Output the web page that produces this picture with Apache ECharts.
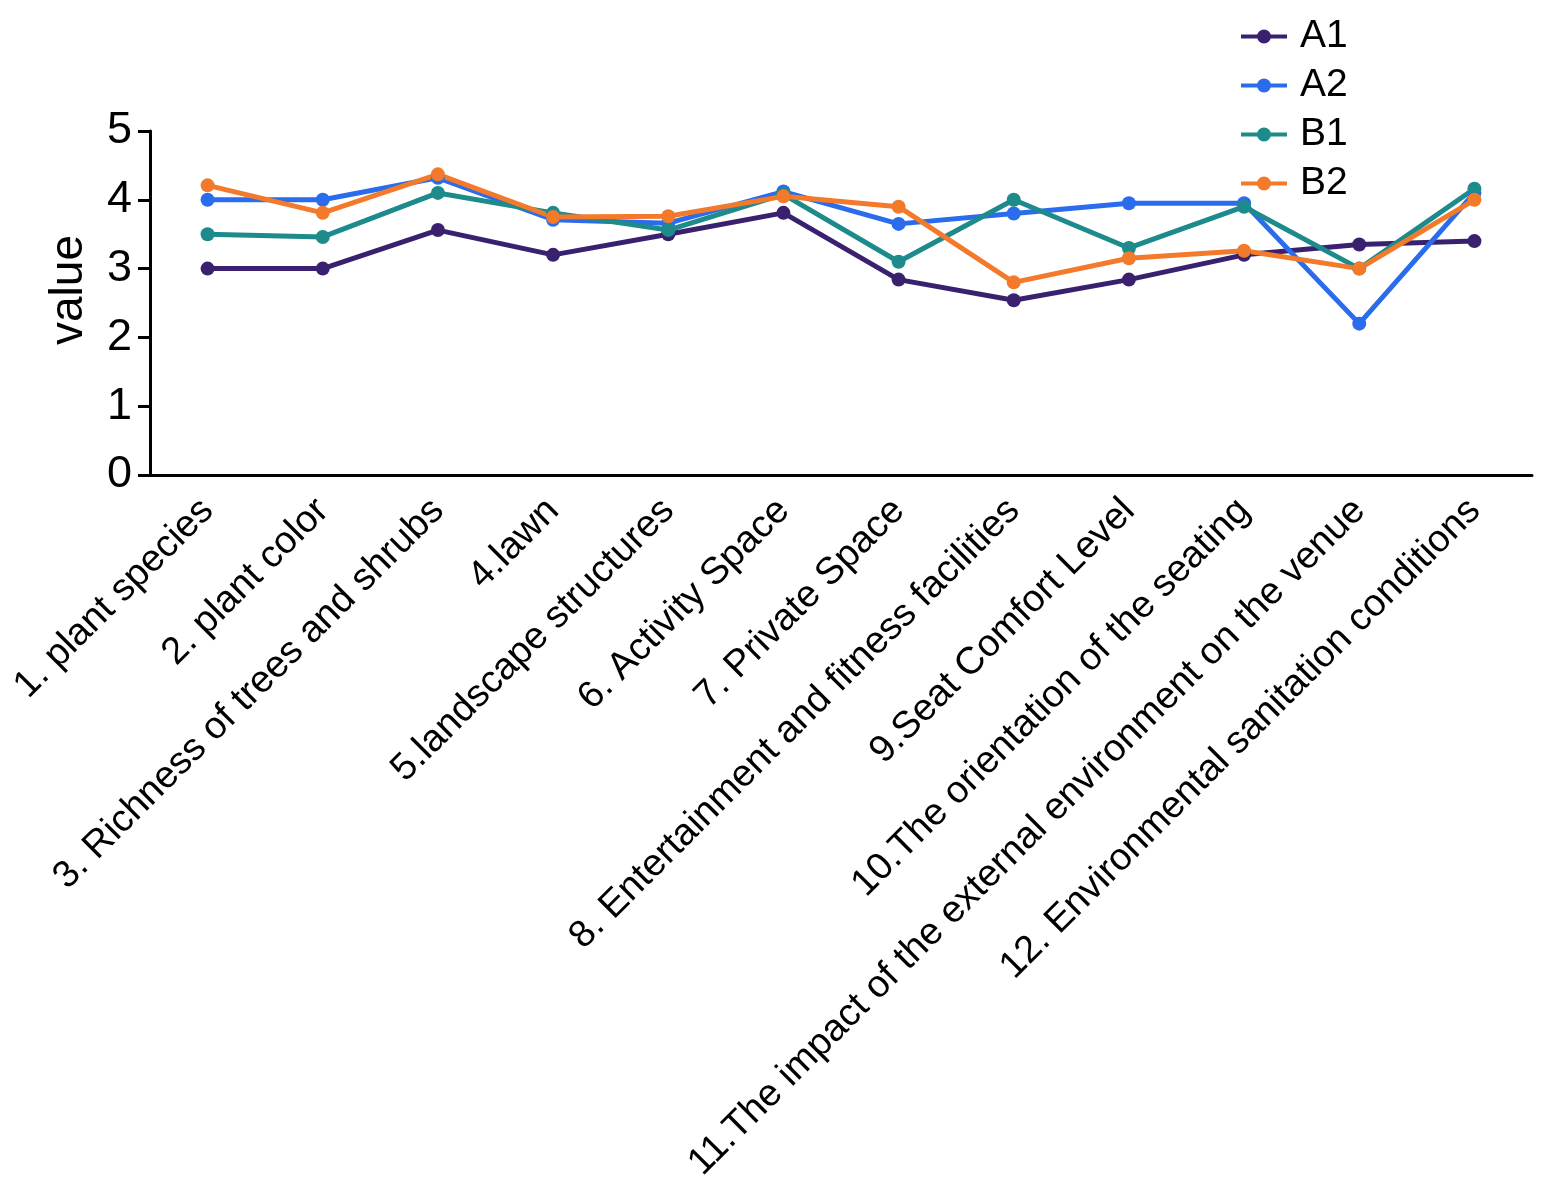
<!DOCTYPE html>
<html>
<head>
<meta charset="utf-8">
<script src="https://cdn.jsdelivr.net/npm/echarts@6/dist/echarts.min.js"></script>
<style>
  html, body { margin: 0; padding: 0; background: #fff; }
  #chartmain { width: 1547px; height: 1201px; }
</style>
</head>
<body>
<div id="chartmain"></div>
<script>
// categories on the x axis
var categories = [
    '1. plant species',
    '2. plant color',
    '3. Richness of trees and shrubs',
    '4.lawn',
    '5.landscape structures',
    '6. Activity Space',
    '7. Private Space',
    '8. Entertainment and fitness facilities',
    '9.Seat Comfort Level',
    '10.The orientation of the seating',
    '11.The impact of the external environment on the venue',
    '12. Environmental sanitation conditions'
];

// series values
var A1 = [3.0, 3.0, 3.56, 3.2, 3.5, 3.81, 2.84, 2.54, 2.84, 3.2, 3.35, 3.4];
var A2 = [4.0, 4.0, 4.32, 3.71, 3.66, 4.12, 3.65, 3.8, 3.95, 3.95, 2.2, 4.1];
var B1 = [3.5, 3.46, 4.1, 3.81, 3.56, 4.08, 3.1, 4.0, 3.3, 3.9, 3.0, 4.16];
var B2 = [4.21, 3.81, 4.37, 3.75, 3.76, 4.05, 3.9, 2.8, 3.15, 3.26, 3.0, 4.0];

var seriesNames = ['A1', 'A2', 'B1', 'B2'];
var seriesColors = ['#3a2170', '#2b6cec', '#1d8a8b', '#f27a2a'];
var yTicks = [0, 1, 2, 3, 4, 5];

var font = 'Liberation Sans, Arial, sans-serif';
// legend mark: a line with a dot in the middle (two separate filled shapes)
var legendIcon = 'path://M0,5L46,5L46,9L0,9Z M16,7A7,7 0 1,1 30,7A7,7 0 1,1 16,7Z';

function makeSeries(name, data, color) {
    return {
        name: name,
        type: 'line',
        data: data,
        symbol: 'circle',
        symbolSize: 14,
        lineStyle: { width: 5, color: color },
        itemStyle: { color: color },
        emphasis: { disabled: true }
    };
}

var chart = echarts.init(document.getElementById('chartmain'));
var allData = [A1, A2, B1, B2];
var series = [];
for (var i = 0; i < seriesNames.length; i++) {
    series.push(makeSeries(seriesNames[i], allData[i], seriesColors[i]));
}

chart.setOption({
    animation: false,
    backgroundColor: '#fff',
    color: seriesColors,
    legend: {
        orient: 'vertical',
        left: 1236,
        top: 12,
        itemWidth: 46,
        itemHeight: 14,
        itemGap: 10,
        data: seriesNames.map(function (n) {
            return { name: n, icon: legendIcon };
        }),
        textStyle: { fontFamily: font, fontSize: 39, color: '#000', padding: [0, 0, 0, 8] }
    },
    grid: {
        left: 150,
        right: 15,
        top: 131,
        bottom: 726,
        containLabel: false
    },
    xAxis: {
        type: 'category',
        data: categories,
        boundaryGap: true,
        axisLine: { lineStyle: { color: '#000', width: 3 } },
        axisTick: { alignWithLabel: true, length: 18, lineStyle: { color: '#000', width: 3 } },
        axisLabel: {
            rotate: 45,
            interval: 0,
            margin: 30,
            fontFamily: font,
            fontSize: 38,
            color: '#000'
        }
    },
    yAxis: {
        type: 'value',
        min: yTicks[0],
        max: yTicks[yTicks.length - 1],
        interval: 1,
        name: 'value',
        nameLocation: 'middle',
        nameGap: 58,
        nameRotate: 90,
        nameTextStyle: { fontFamily: font, fontSize: 46, color: '#000', padding: [0, 0, 0, 26] },
        splitLine: { show: false },
        axisLine: { show: true, lineStyle: { color: '#000', width: 3 } },
        axisTick: { show: true, length: 12, lineStyle: { color: '#000', width: 3 } },
        axisLabel: { fontFamily: font, fontSize: 45, color: '#000', margin: 18 }
    },
    series: series
});
</script>
</body>
</html>
